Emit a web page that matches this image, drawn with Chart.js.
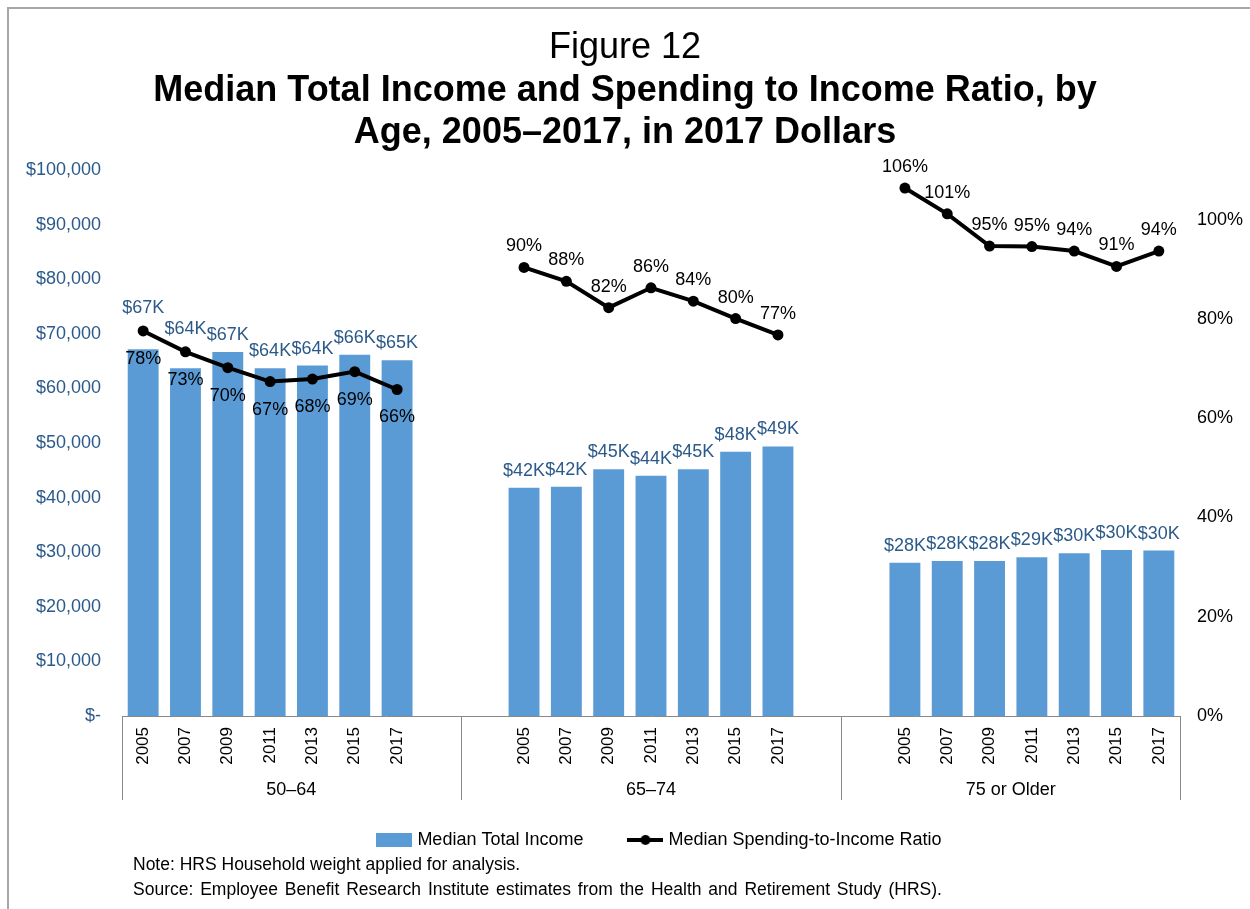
<!DOCTYPE html>
<html>
<head>
<meta charset="utf-8">
<title>Median Total Income and Spending to Income Ratio, by Age</title>
<script src="https://cdn.jsdelivr.net/npm/chart.js@4.4.1/dist/chart.umd.min.js"></script>
<style>
  html, body { margin: 0; padding: 0; background: #fff; }
  #wrap { position: relative; width: 1250px; height: 909px; overflow: hidden; }
  #frame {
    position: absolute; left: 7px; top: 7px; right: 0; bottom: 0;
    border-left: 2px solid #a6a6a6; border-top: 2px solid #a6a6a6;
    pointer-events: none;
  }
  #notes {
    position: absolute; left: 133px; top: 852px;
    font: 17.5px "Liberation Sans", Arial, sans-serif; line-height: 25px; color: #000;
    white-space: nowrap;
  }
  #notes .source { word-spacing: 2px; }
</style>
</head>
<body>
<div id="wrap">
  <canvas id="chart" width="1250" height="909"></canvas>
  <div id="frame"></div>
  <div id="notes">
    <div>Note: HRS Household weight applied for analysis.</div>
    <div class="source">Source: Employee Benefit Research Institute estimates from the Health and Retirement Study (HRS).</div>
  </div>
</div>

<script>
// --- data ---
const years = ["2005", "2007", "2009", "2011", "2013", "2015", "2017"];
const ageGroups = ["50–64", "65–74", "75 or Older"];

// median total income, 2017 dollars
const income5064 = [67200, 63700, 66700, 63700, 64200, 66200, 65200];
const income6574 = [41800, 42000, 45200, 44000, 45200, 48400, 49400];
const income75 = [28100, 28400, 28400, 29100, 29800, 30400, 30300];

// median spending-to-income ratio, percent
const ratio5064 = [77.6, 73.4, 70.2, 67.4, 67.9, 69.4, 65.8];
const ratio6574 = [90.4, 87.6, 82.3, 86.3, 83.6, 80.1, 76.8];
const ratio75 = [106.4, 101.2, 94.7, 94.6, 93.7, 90.6, 93.7];

// empty categories before / after each age group on the x axis
const gapSlots = [[0, 1], [1, 1], [1, 0]];

const incomeTicks = [0, 10000, 20000, 30000, 40000, 50000, 60000, 70000, 80000, 90000, 100000];
const ratioTicks = [0, 20, 40, 60, 80, 100];

// --- colours / fonts ---
const FONT = '"Liberation Sans", Arial, sans-serif';
const barBlue = "#5b9bd5";
const labelBlue = "#2b5a8a";
const axisGrey = "#898989";

Chart.defaults.font.family = FONT;
Chart.defaults.color = "#000";

// flatten the three groups into one category axis
const labels = [];
const incomeData = [];
const ratioData = [];
const groupSpans = [];
[
  [income5064, ratio5064],
  [income6574, ratio6574],
  [income75, ratio75],
].forEach(([inc, rat], gi) => {
  const start = labels.length;
  const [before, after] = gapSlots[gi];
  const blank = () => { labels.push(""); incomeData.push(null); ratioData.push(null); };
  for (let i = 0; i < before; i++) blank();
  years.forEach((y, i) => {
    labels.push(y);
    incomeData.push(inc[i]);
    ratioData.push(rat[i]);
  });
  for (let i = 0; i < after; i++) blank();
  groupSpans.push({ name: ageGroups[gi], start, end: labels.length });
});

// legend markers
function legendMarker(kind) {
  const c = document.createElement("canvas");
  c.width = 36;
  c.height = 14;
  const g = c.getContext("2d");
  if (kind === "bar") {
    g.fillStyle = barBlue;
    g.fillRect(0, 0, 36, 14);
  } else {
    g.strokeStyle = "#000";
    g.lineWidth = 4;
    g.beginPath();
    g.moveTo(0, 7);
    g.lineTo(36, 7);
    g.stroke();
    g.fillStyle = "#000";
    g.beginPath();
    g.arc(18, 7, 5, 0, Math.PI * 2);
    g.fill();
  }
  return c;
}

// $ and % labels over the bars / points
const valueLabels = {
  id: "valueLabels",
  afterDatasetsDraw(chart) {
    const { ctx } = chart;
    const lineMeta = chart.getDatasetMeta(0);
    const barMeta = chart.getDatasetMeta(1);
    ctx.save();
    ctx.textAlign = "center";
    ctx.textBaseline = "middle";
    ctx.font = "18px " + FONT;
    barMeta.data.forEach((bar, i) => {
      if (incomeData[i] == null) return;
      const pt = lineMeta.data[i];
      const pointNearTop = ratioData[i] != null && pt.y > bar.y - 30;

      let by = bar.y - 17;
      // push the $ label above the ratio point if it sits on the bar
      if (pointNearTop) by = Math.min(by, pt.y - 23);
      ctx.fillStyle = labelBlue;
      ctx.fillText("$" + Math.round(incomeData[i] / 1000) + "K", bar.x, by);

      if (ratioData[i] == null) return;
      const ly = pointNearTop ? pt.y + 28 : pt.y - 21;
      ctx.fillStyle = "#000";
      ctx.fillText(Math.round(ratioData[i]) + "%", pt.x, ly);
    });
    ctx.restore();
  },
};

// second row of the x axis: group separators and age group names
const ageGroupAxis = {
  id: "ageGroupAxis",
  afterLayout(chart) {
    // legend sits a little right of the plot centre
    chart.legend.left += 10;
    chart.legend.right += 10;
  },
  afterDraw(chart) {
    const { ctx } = chart;
    const x = chart.scales.x;
    const bottom = chart.chartArea.bottom;
    const step = x.width / labels.length;
    const edge = (i) => x.left + i * step;

    ctx.save();
    ctx.strokeStyle = axisGrey;
    ctx.lineWidth = 1;
    const edges = new Set();
    groupSpans.forEach((s) => { edges.add(s.start); edges.add(s.end); });
    edges.forEach((i) => {
      const px = Math.round(edge(i)) + 0.5;
      ctx.beginPath();
      ctx.moveTo(px, bottom);
      ctx.lineTo(px, bottom + 84);
      ctx.stroke();
    });

    ctx.fillStyle = "#000";
    ctx.font = "18px " + FONT;
    ctx.textAlign = "center";
    ctx.textBaseline = "middle";
    groupSpans.forEach((s) => {
      ctx.fillText(s.name, (edge(s.start) + edge(s.end)) / 2, bottom + 74);
    });
    ctx.restore();
  },
};

const ctx = document.getElementById("chart");

new Chart(ctx, {
  type: "bar",
  data: {
    labels: labels,
    datasets: [
      {
        type: "line",
        label: "Median Spending-to-Income Ratio",
        data: ratioData,
        yAxisID: "yRatio",
        borderColor: "#000",
        backgroundColor: "#000",
        borderWidth: 4,
        pointRadius: 5.5,
        pointBorderWidth: 0,
        pointBackgroundColor: "#000",
        spanGaps: false,
        tension: 0,
        order: 0,
      },
      {
        type: "bar",
        label: "Median Total Income",
        data: incomeData,
        yAxisID: "yIncome",
        backgroundColor: barBlue,
        categoryPercentage: 1,
        barPercentage: 0.73,
        order: 1,
      },
    ],
  },
  options: {
    responsive: false,
    animation: false,
    layout: { padding: { top: 0, bottom: 50, left: 0, right: 0 } },
    plugins: {
      tooltip: { enabled: false },
      title: {
        display: true,
        text: "Figure 12",
        color: "#000",
        font: { size: 36, weight: "normal", lineHeight: 1.2 },
        padding: { top: 26, bottom: 0 },
      },
      subtitle: {
        display: true,
        text: [
          "Median Total Income and Spending to Income Ratio, by",
          "Age, 2005–2017, in 2017 Dollars",
        ],
        color: "#000",
        font: { size: 36, weight: "bold", lineHeight: 1.1667 },
        padding: { top: 1, bottom: 16 },
      },
      legend: {
        position: "bottom",
        fullSize: false,
        labels: {
          usePointStyle: true,
          pointStyleWidth: 28,
          padding: 48,
          color: "#000",
          font: { size: 18 },
          generateLabels: () => [
            { text: "Median Total Income", pointStyle: legendMarker("bar"), datasetIndex: 1, lineWidth: 0 },
            { text: "Median Spending-to-Income Ratio", pointStyle: legendMarker("line"), datasetIndex: 0, lineWidth: 0 },
          ],
        },
      },
    },
    scales: {
      x: {
        offset: true,
        grid: { display: false, drawTicks: false },
        border: { display: true, color: axisGrey, width: 1 },
        ticks: {
          autoSkip: false,
          minRotation: 90,
          maxRotation: 90,
          padding: 11,
          color: "#000",
          font: { size: 17 },
        },
        afterFit(scale) { scale.height = 67; },
      },
      yIncome: {
        position: "left",
        min: 0,
        max: 100000,
        grid: { display: false, drawTicks: false },
        border: { display: false },
        afterBuildTicks(scale) { scale.ticks = incomeTicks.map((v) => ({ value: v })); },
        ticks: {
          padding: 21,
          color: labelBlue,
          font: { size: 18 },
          callback: (v) => (v === 0 ? "$-" : "$" + v.toLocaleString("en-US")),
        },
        afterFit(scale) { scale.width = 122; },
      },
      yRatio: {
        position: "right",
        min: 0,
        max: 110,
        grid: { display: false, drawTicks: false },
        border: { display: false },
        afterBuildTicks(scale) { scale.ticks = ratioTicks.map((v) => ({ value: v })); },
        ticks: {
          padding: 17,
          color: "#000",
          font: { size: 18 },
          callback: (v) => v + "%",
        },
        afterFit(scale) { scale.width = 70; },
      },
    },
  },
  plugins: [valueLabels, ageGroupAxis],
});
</script>
</body>
</html>
